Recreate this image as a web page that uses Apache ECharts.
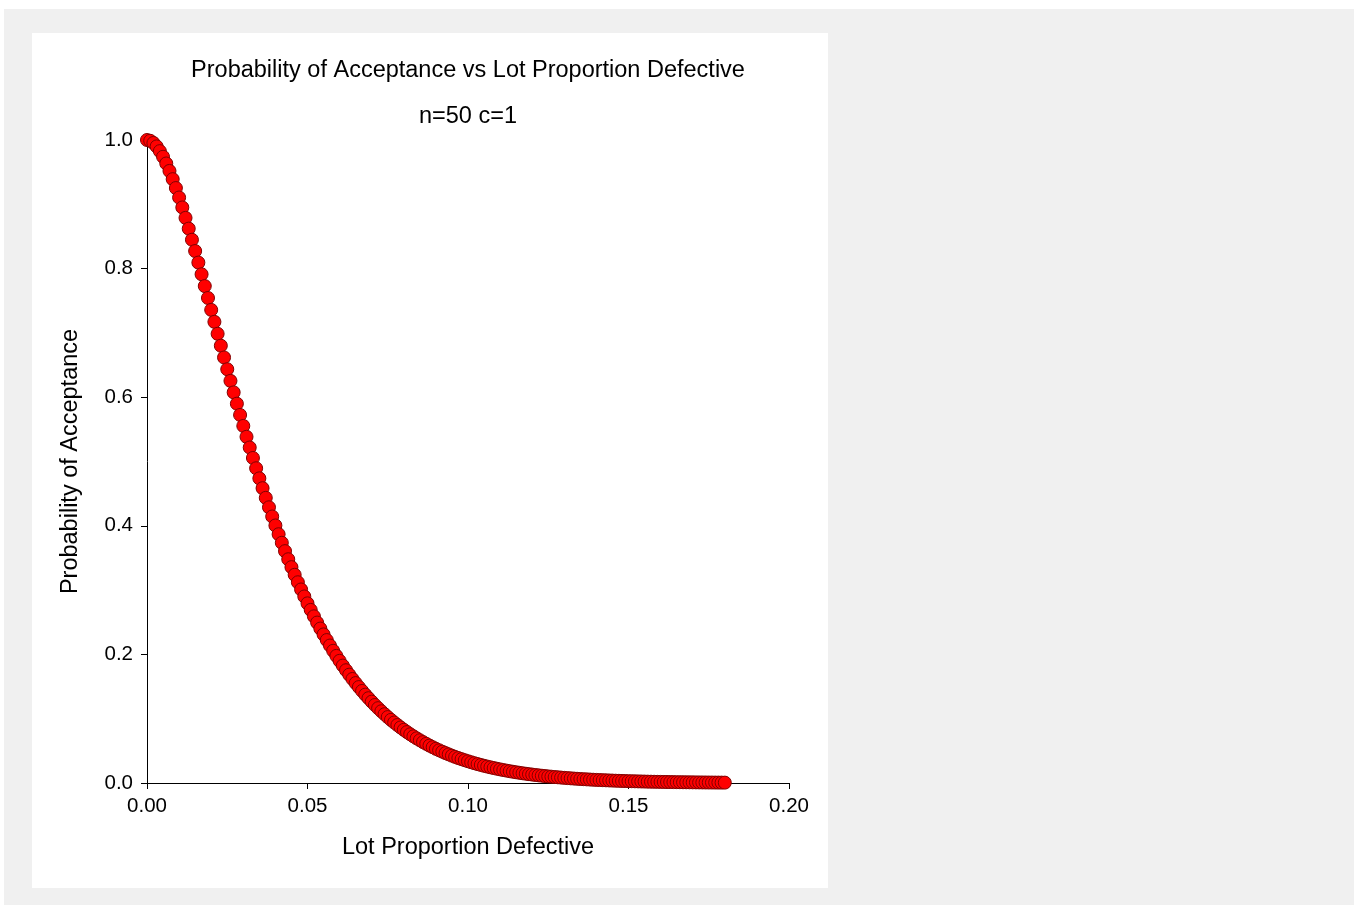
<!DOCTYPE html>
<html>
<head>
<meta charset="utf-8">
<script src="https://cdn.jsdelivr.net/npm/echarts@6/dist/echarts.min.js"></script>
<style>
  body { margin: 0; background: #ffffff; }
  #page { position: absolute; left: 4px; top: 9px; width: 1350px; height: 896px; background: #f0f0f0; }
  #oc { position: absolute; left: 32px; top: 33px; width: 796px; height: 855px; background: #ffffff; }
</style>
</head>
<body>
<div id="page"></div>
<div id="oc"></div>
<script>
// lot proportion defective (x) and probability of acceptance (y), n=50 c=1
var lotDefective = [
  0.000, 0.001, 0.002, 0.003, 0.004, 0.005, 0.006, 0.007, 0.008, 0.009,
  0.010, 0.011, 0.012, 0.013, 0.014, 0.015, 0.016, 0.017, 0.018, 0.019,
  0.020, 0.021, 0.022, 0.023, 0.024, 0.025, 0.026, 0.027, 0.028, 0.029,
  0.030, 0.031, 0.032, 0.033, 0.034, 0.035, 0.036, 0.037, 0.038, 0.039,
  0.040, 0.041, 0.042, 0.043, 0.044, 0.045, 0.046, 0.047, 0.048, 0.049,
  0.050, 0.051, 0.052, 0.053, 0.054, 0.055, 0.056, 0.057, 0.058, 0.059,
  0.060, 0.061, 0.062, 0.063, 0.064, 0.065, 0.066, 0.067, 0.068, 0.069,
  0.070, 0.071, 0.072, 0.073, 0.074, 0.075, 0.076, 0.077, 0.078, 0.079,
  0.080, 0.081, 0.082, 0.083, 0.084, 0.085, 0.086, 0.087, 0.088, 0.089,
  0.090, 0.091, 0.092, 0.093, 0.094, 0.095, 0.096, 0.097, 0.098, 0.099,
  0.100, 0.101, 0.102, 0.103, 0.104, 0.105, 0.106, 0.107, 0.108, 0.109,
  0.110, 0.111, 0.112, 0.113, 0.114, 0.115, 0.116, 0.117, 0.118, 0.119,
  0.120, 0.121, 0.122, 0.123, 0.124, 0.125, 0.126, 0.127, 0.128, 0.129,
  0.130, 0.131, 0.132, 0.133, 0.134, 0.135, 0.136, 0.137, 0.138, 0.139,
  0.140, 0.141, 0.142, 0.143, 0.144, 0.145, 0.146, 0.147, 0.148, 0.149,
  0.150, 0.151, 0.152, 0.153, 0.154, 0.155, 0.156, 0.157, 0.158, 0.159,
  0.160, 0.161, 0.162, 0.163, 0.164, 0.165, 0.166, 0.167, 0.168, 0.169,
  0.170, 0.171, 0.172, 0.173, 0.174, 0.175, 0.176, 0.177, 0.178, 0.179,
  0.180
];
var probAccept = [
  1.0000, 0.9988, 0.9954, 0.9900, 0.9827, 0.9739, 0.9635, 0.9519, 0.9391, 0.9253,
  0.9106, 0.8951, 0.8789, 0.8622, 0.8449, 0.8273, 0.8094, 0.7912, 0.7728, 0.7543,
  0.7358, 0.7172, 0.6986, 0.6801, 0.6618, 0.6435, 0.6254, 0.6075, 0.5899, 0.5724,
  0.5553, 0.5384, 0.5218, 0.5055, 0.4895, 0.4738, 0.4585, 0.4435, 0.4288, 0.4145,
  0.4005, 0.3869, 0.3736, 0.3606, 0.3480, 0.3357, 0.3238, 0.3122, 0.3010, 0.2901,
  0.2794, 0.2692, 0.2592, 0.2495, 0.2402, 0.2311, 0.2223, 0.2138, 0.2056, 0.1977,
  0.1900, 0.1826, 0.1754, 0.1685, 0.1618, 0.1554, 0.1492, 0.1432, 0.1374, 0.1319,
  0.1265, 0.1213, 0.1164, 0.1116, 0.1070, 0.1025, 0.0982, 0.0941, 0.0902, 0.0864,
  0.0827, 0.0792, 0.0758, 0.0726, 0.0695, 0.0665, 0.0636, 0.0609, 0.0582, 0.0557,
  0.0532, 0.0509, 0.0487, 0.0465, 0.0445, 0.0425, 0.0406, 0.0388, 0.0371, 0.0354,
  0.0338, 0.03226, 0.03080, 0.02940, 0.02806, 0.02678, 0.02556, 0.02439, 0.02326, 0.02219,
  0.02117, 0.02018, 0.01925, 0.01835, 0.01749, 0.01668, 0.01589, 0.01515, 0.01443, 0.01375,
  0.01310, 0.01248, 0.01188, 0.01132, 0.01078, 0.01026, 0.00977, 0.00930, 0.00885, 0.00842,
  0.00802, 0.00763, 0.00726, 0.00690, 0.00657, 0.00624, 0.00594, 0.00565, 0.00537, 0.00510,
  0.00485, 0.00461, 0.00438, 0.00416, 0.00396, 0.00376, 0.00357, 0.00339, 0.00322, 0.00306,
  0.00291, 0.00276, 0.00262, 0.00249, 0.00236, 0.00224, 0.00213, 0.00202, 0.00191, 0.00182,
  0.00172, 0.00163, 0.00155, 0.00147, 0.00139, 0.00132, 0.00125, 0.00119, 0.00113, 0.00107,
  0.00101, 0.00096, 0.00091, 0.00086, 0.00081, 0.00077, 0.00073, 0.00069, 0.00066, 0.00062,
  0.00059
];

var points = [];
for (var i = 0; i < lotDefective.length; i++) {
  points.push([lotDefective[i], probAccept[i]]);
}

var font = "'Liberation Sans', Arial, sans-serif";
var chart = echarts.init(document.getElementById('oc'));
var option = {
  animation: false,
  title: [
    {
      text: 'Probability of Acceptance vs Lot Proportion Defective',
      left: 436, top: 26, padding: 0, textAlign: 'center',
      textStyle: { fontFamily: font, fontSize: 23.5, fontWeight: 'normal', color: '#000' }
    },
    {
      text: 'n=50 c=1',
      left: 436, top: 72, padding: 0, textAlign: 'center',
      textStyle: { fontFamily: font, fontSize: 23.5, fontWeight: 'normal', color: '#000' }
    }
  ],
  grid: { left: 115, top: 107, width: 642, height: 643 },
  xAxis: {
    type: 'value',
    min: 0, max: 0.2, interval: 0.05,
    name: 'Lot Proportion Defective',
    nameLocation: 'middle', nameGap: 53,
    nameTextStyle: { fontFamily: font, fontSize: 23.5, color: '#000' },
    axisLine: { onZero: false, lineStyle: { color: '#000', width: 1 } },
    axisTick: { length: 6, lineStyle: { color: '#000' } },
    axisLabel: {
      margin: 13, fontFamily: font, fontSize: 20.5, color: '#000',
      formatter: function (v) { return v.toFixed(2); }
    },
    splitLine: { show: false }
  },
  yAxis: {
    type: 'value',
    min: 0, max: 1, interval: 0.2,
    name: 'Probability of Acceptance',
    nameLocation: 'middle', nameGap: 64,
    nameTextStyle: { fontFamily: font, fontSize: 23.5, color: '#000' },
    axisLine: { show: true, onZero: false, lineStyle: { color: '#000', width: 1 } },
    axisTick: { show: true, length: 6, lineStyle: { color: '#000' } },
    axisLabel: {
      margin: 14, fontFamily: font, fontSize: 20.5, color: '#000',
      formatter: function (v) { return v.toFixed(1); }
    },
    splitLine: { show: false }
  },
  series: [
    {
      type: 'scatter',
      data: points,
      symbol: 'circle',
      symbolSize: 13,
      itemStyle: { color: '#ff0000', borderColor: '#800000', borderWidth: 1, opacity: 1 }
    }
  ]
};
chart.setOption(option);
</script>
</body>
</html>
